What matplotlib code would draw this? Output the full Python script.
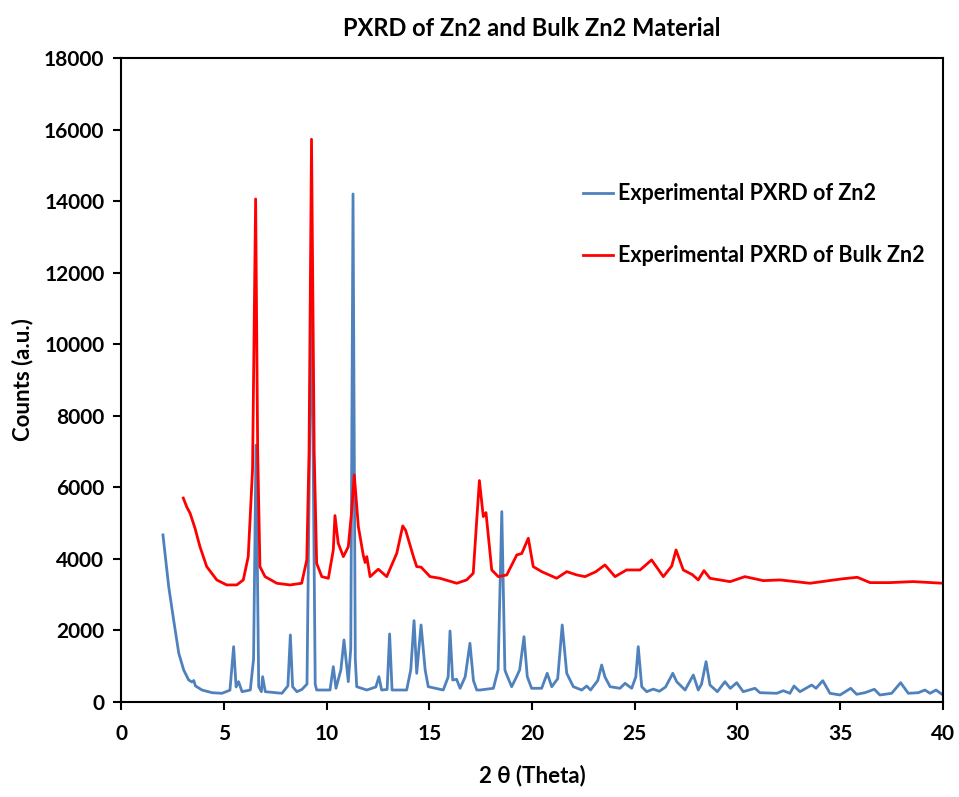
import matplotlib
matplotlib.use("Agg")
import matplotlib.pyplot as plt

# 2-theta / counts pairs for the as-synthesised sample
zn2Theta = [2.04, 2.32, 2.56, 2.81, 3.05, 3.29, 3.45, 3.54, 3.62, 3.94, 4.43, 4.91, 5.30, 5.48, 5.60, 5.72, 5.89,
            6.29, 6.45, 6.57, 6.70, 6.83, 6.89, 7.02, 7.83, 8.12, 8.24, 8.35, 8.56, 8.80, 9.05, 9.27, 9.45, 9.52,
            10.17, 10.33, 10.46, 10.70, 10.85, 11.06, 11.18, 11.29, 11.40, 11.47, 11.96, 12.40, 12.55, 12.68,
            12.95, 13.07, 13.19, 13.90, 14.10, 14.26, 14.39, 14.60, 14.80, 14.95, 15.68, 15.92, 16.01, 16.14,
            16.33, 16.50, 16.75, 16.98, 17.15, 17.31, 17.47, 18.12, 18.35, 18.53, 18.68, 18.74, 19.01, 19.25,
            19.40, 19.61, 19.77, 19.98, 20.47, 20.74, 20.96, 21.25, 21.47, 21.69, 22.01, 22.42, 22.66, 22.85,
            23.20, 23.39, 23.55, 23.80, 24.28, 24.53, 24.85, 25.05, 25.17, 25.34, 25.58, 25.90, 26.20, 26.50,
            26.85, 27.04, 27.45, 27.85, 28.09, 28.25, 28.47, 28.66, 29.02, 29.39, 29.65, 29.96, 30.28, 30.85,
            31.09, 31.91, 32.23, 32.55, 32.75, 33.04, 33.61, 33.82, 34.15, 34.50, 34.99, 35.51, 35.80, 36.20,
            36.66, 36.93, 37.50, 37.94, 38.31, 38.80, 39.12, 39.37, 39.66, 40.00]
zn2Counts = [4670, 3224, 2293, 1362, 895, 615, 560, 600, 450, 335, 260, 243, 330, 1547, 420, 568, 288,
             335, 1200, 7180, 428, 288, 708, 288, 243, 450, 1874, 428, 288, 350, 500, 12000, 500, 335,
             335, 987, 383, 900, 1734, 568, 1500, 14200, 1200, 428, 335, 420, 708, 335,
             350, 1902, 335, 335, 900, 2274, 802, 2153, 900, 428, 335, 700, 1985, 615,
             634, 383, 708, 1641, 600, 335, 335, 383, 900, 5322, 900, 800, 428, 708,
             900, 1826, 708, 383, 383, 802, 428, 650, 2153, 802, 428, 335, 447, 335,
             600, 1034, 700, 428, 383, 522, 383, 700, 1547, 428, 288, 360, 300, 420,
             802, 568, 335, 755, 335, 500, 1127, 475, 288, 568, 380, 540, 288, 383,
             260, 243, 316, 243, 447, 288, 475, 383, 596, 243, 196, 383, 215, 260,
             355, 196, 243, 540, 243, 260, 335, 243, 335, 196]

# 2-theta / counts pairs for the bulk material
bulkTheta = [3.03, 3.20, 3.36, 3.60, 3.84, 4.17, 4.66, 5.14, 5.63, 5.95, 6.19, 6.40, 6.55, 6.65, 6.76, 7.01,
             7.58, 8.22, 8.79, 9.04, 9.15, 9.27, 9.40, 9.52, 9.77, 10.09, 10.33, 10.41, 10.57, 10.82, 11.06,
             11.23, 11.35, 11.55, 11.79, 11.88, 11.96, 12.12, 12.52, 12.93, 13.42, 13.71, 13.85, 14.23, 14.39,
             14.60, 15.04, 15.52, 16.34, 16.82, 17.14, 17.30, 17.44, 17.63, 17.76, 17.90, 18.04, 18.36, 18.77,
             19.26, 19.50, 19.82, 20.06, 20.47, 21.20, 21.69, 22.18, 22.58, 23.10, 23.55, 24.04, 24.60, 25.26,
             25.82, 26.39, 26.80, 27.01, 27.36, 27.80, 28.09, 28.37, 28.66, 29.64, 30.36, 31.26, 32.07, 33.53,
             35.07, 35.83, 36.45, 37.42, 38.55, 40.00]
bulkCounts = [5700, 5450, 5277, 4858, 4343, 3784, 3412, 3272, 3272, 3412, 4063, 6500, 14060, 7000, 3784, 3504,
              3319, 3272, 3319, 3971, 7000, 15730, 7000, 3878, 3504, 3458, 4250, 5211, 4436, 4063, 4343,
              5369, 6348, 4902, 4100, 3900, 4063, 3504, 3711, 3504, 4158, 4922, 4800, 4063, 3784,
              3770, 3504, 3458, 3319, 3412, 3598, 5000, 6189, 5182, 5294, 4500, 3691, 3504, 3551,
              4111, 4150, 4577, 3784, 3644, 3458, 3644, 3551, 3504, 3640, 3831, 3504, 3691, 3691,
              3971, 3504, 3800, 4250, 3691, 3560, 3412, 3672, 3458, 3364, 3504, 3392, 3412, 3319,
              3440, 3486, 3337, 3337, 3365, 3319]

xTicks = [0, 5, 10, 15, 20, 25, 30, 35, 40]
yTicks = list(range(0, 18001, 2000))

plt.rcParams['font.family'] = ['Lato', 'DejaVu Sans']
plt.rcParams['font.weight'] = 'bold'

fig = plt.figure(figsize=(9.59, 7.97), dpi=100)
ax = fig.add_axes([0.1262, 0.1192, 0.8571, 0.8080])

ax.plot(zn2Theta, zn2Counts, color="#4f81bd", lw=2.0, label="Experimental PXRD of Zn2")
ax.plot(bulkTheta, bulkCounts, color="#ff0000", lw=2.0, label="Experimental PXRD of Bulk Zn2")

ax.set_xlim(0, 40)
ax.set_ylim(0, 18000)
ax.set_xticks(xTicks)
ax.set_yticks(yTicks)
ax.tick_params(direction="out", length=6, width=1.5, labelsize=15)
ax.tick_params(axis="x", pad=10)
ax.tick_params(axis="y", pad=6)
for s in ax.spines.values():
    s.set_linewidth(1.5)

ax.set_xlabel("2 \u03b8 (Theta)", fontsize=16, fontweight="bold", labelpad=15)
ax.set_ylabel("Counts (a.u.)", fontsize=16, fontweight="bold", labelpad=8)
ax.set_title("PXRD of Zn2 and Bulk Zn2 Material", fontsize=17, fontweight="bold", pad=16)

ax.legend(loc="upper left", bbox_to_anchor=(0.551, 0.819), frameon=False, fontsize=15.5,
          handlelength=1.4, handletextpad=0.25, labelspacing=1.9, borderaxespad=0)

fig.savefig("out.png", dpi=100)
